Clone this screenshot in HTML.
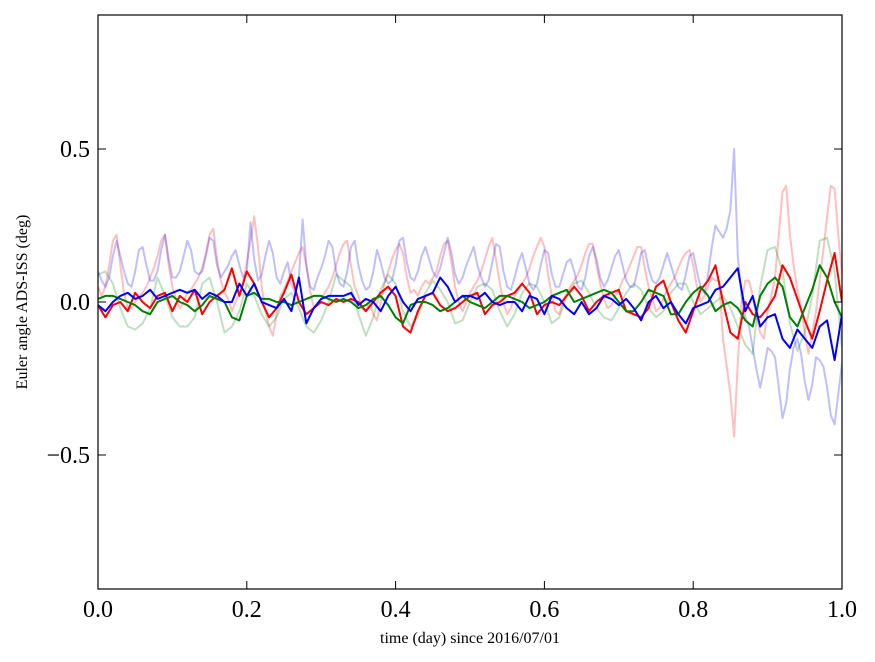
<!DOCTYPE html>
<html><head><meta charset="utf-8"><style>
html,body{margin:0;padding:0;background:#fff;}
svg{display:block;font-family:"Liberation Serif",serif;}
</style></head><body>
<svg id="chart" width="875" height="662"></svg>
<script>
const fineTimes = Array.from({length:201},(_,i)=>i*0.005);
const coarseTimes = Array.from({length:101},(_,i)=>i*0.01);
const xTickLabels = ["0.0","0.2","0.4","0.6","0.8","1.0"];
const xTickValues = [0,0.2,0.4,0.6,0.8,1.0];
const yTickLabels = ["0.5","0.0","\u22120.5"];
const yTickValues = [0.5,0,-0.5];

const faintBlue = [0.10,0.07,0.05,0.08,0.15,0.20,0.15,0.10,0.06,0.05,0.10,0.17,0.18,0.12,0.07,0.07,0.10,0.17,0.22,0.14,0.08,0.08,0.10,0.15,0.20,0.17,0.10,0.09,0.10,0.15,0.21,0.20,0.12,0.08,0.10,0.12,0.15,0.17,0.12,0.08,0.10,0.26,0.14,0.07,0.09,0.15,0.20,0.16,0.08,0.06,0.10,0.13,0.06,0.03,0.08,0.27,0.12,0.05,0.04,0.08,0.11,0.15,0.20,0.18,0.10,0.06,0.05,0.10,0.18,0.20,0.12,0.07,0.04,0.05,0.10,0.17,0.13,0.08,0.06,0.07,0.12,0.20,0.21,0.13,0.08,0.07,0.10,0.15,0.18,0.14,0.10,0.08,0.11,0.16,0.21,0.16,0.09,0.06,0.08,0.12,0.15,0.18,0.12,0.08,0.05,0.07,0.13,0.19,0.18,0.10,0.05,0.04,0.08,0.13,0.16,0.11,0.06,0.04,0.06,0.12,0.17,0.16,0.09,0.05,0.05,0.09,0.13,0.14,0.10,0.05,0.04,0.08,0.15,0.18,0.14,0.08,0.05,0.07,0.11,0.15,0.17,0.12,0.07,0.05,0.05,0.10,0.16,0.17,0.11,0.07,0.06,0.08,0.12,0.16,0.12,0.08,0.05,0.04,0.09,0.15,0.16,0.10,0.05,0.03,0.09,0.18,0.25,0.23,0.21,0.24,0.30,0.50,0.15,0.02,-0.05,-0.08,-0.15,-0.22,-0.28,-0.22,-0.15,-0.16,-0.18,-0.28,-0.38,-0.33,-0.22,-0.15,-0.12,-0.17,-0.26,-0.32,-0.27,-0.18,-0.19,-0.21,-0.28,-0.37,-0.40,-0.30,-0.20];
const faintRed = [0.05,0.02,0.05,0.12,0.20,0.22,0.12,0.03,-0.02,-0.02,0.0,0.02,0.03,0.05,0.08,0.11,0.15,0.20,0.22,0.12,0.05,0.01,-0.02,0.0,0.03,0.04,0.06,0.08,0.11,0.16,0.22,0.24,0.14,0.07,0.03,0.01,-0.03,0.0,0.03,0.06,0.13,0.20,0.28,0.18,0.05,-0.03,-0.08,-0.11,-0.04,0.02,0.04,0.07,0.10,0.13,0.16,0.18,0.12,0.04,-0.02,-0.01,0.01,0.03,0.05,0.08,0.12,0.16,0.19,0.20,0.12,0.05,0.02,-0.02,-0.03,0.0,-0.04,-0.06,0.0,0.06,0.10,0.14,0.17,0.19,0.16,0.08,0.03,0.04,0.02,0.05,0.07,0.06,0.08,0.10,0.15,0.19,0.20,0.13,0.05,0.0,-0.03,0.0,0.03,0.05,0.07,0.10,0.14,0.18,0.21,0.14,0.06,0.0,-0.04,-0.02,0.02,0.04,0.06,0.08,0.11,0.15,0.18,0.21,0.18,0.09,0.02,-0.03,-0.04,0.0,0.03,0.05,0.07,0.09,0.12,0.16,0.19,0.19,0.12,0.06,0.01,-0.02,-0.01,0.02,0.04,0.07,0.09,0.12,0.15,0.18,0.18,0.11,0.05,0.01,-0.03,-0.02,0.01,0.04,0.06,0.08,0.11,0.14,0.16,0.17,0.12,0.05,0.0,0.02,0.05,0.08,0.07,0.07,-0.12,-0.21,-0.30,-0.44,-0.20,0.0,0.07,0.07,0.02,-0.05,-0.10,-0.12,-0.03,0.02,0.08,0.22,0.36,0.38,0.22,0.12,0.04,-0.02,-0.10,-0.17,-0.10,-0.03,0.07,0.17,0.28,0.38,0.37,0.22,0.09];
const faintGreen = [0.09,0.10,0.06,-0.02,-0.08,-0.09,-0.07,-0.02,0.08,0.02,-0.05,-0.08,-0.08,-0.05,0.06,0.08,0.0,-0.10,-0.08,-0.03,0.06,0.02,-0.04,-0.08,-0.05,0.01,0.03,-0.02,-0.08,-0.10,-0.06,0.0,0.09,0.07,0.05,-0.04,-0.11,-0.05,0.04,0.09,0.06,-0.03,-0.08,-0.05,0.03,0.07,0.04,0.0,-0.07,-0.06,0.0,0.05,0.06,0.04,-0.03,-0.08,-0.04,0.03,0.06,0.05,0.0,-0.07,-0.05,0.02,0.06,0.07,0.03,-0.02,-0.05,-0.06,-0.02,0.03,0.06,0.04,-0.02,-0.05,-0.03,0.03,0.06,0.06,0.0,-0.04,-0.02,0.0,0.02,-0.02,-0.08,-0.14,-0.17,0.05,0.17,0.18,0.10,-0.07,-0.16,-0.10,0.02,0.20,0.21,0.10,-0.15];
const solidRed = [-0.01,-0.05,-0.01,0.0,-0.03,0.03,0.0,-0.02,0.02,0.03,-0.03,0.02,0.0,0.04,-0.04,0.0,0.02,0.04,0.11,0.02,0.10,0.06,0.0,-0.05,-0.02,0.03,0.09,0.0,-0.04,-0.02,0.0,-0.01,0.01,0.0,0.01,0.0,-0.03,0.0,0.03,0.05,0.02,-0.08,-0.10,-0.03,0.02,0.03,-0.01,-0.03,-0.02,0.0,0.02,0.03,-0.04,-0.01,0.0,0.02,0.03,0.06,0.03,-0.04,-0.01,0.0,-0.01,0.02,0.05,0.02,-0.03,0.0,0.02,0.03,0.04,-0.03,-0.04,-0.05,-0.02,0.05,0.07,0.0,-0.06,-0.10,-0.03,0.04,0.07,0.12,0.0,-0.10,-0.12,0.0,-0.04,-0.05,-0.02,0.02,0.12,0.08,0.01,-0.06,-0.12,-0.03,0.07,0.16,0.0];
const solidGreen = [0.01,0.02,0.02,0.01,0.0,-0.01,-0.03,-0.04,0.0,0.01,0.02,0.0,-0.01,-0.03,-0.01,0.02,0.01,0.0,-0.05,-0.06,0.02,0.03,0.01,0.01,0.0,0.0,-0.01,0.0,0.01,0.02,0.02,0.01,0.0,0.01,0.0,-0.02,-0.01,0.01,0.02,-0.01,-0.05,-0.07,-0.01,0.0,0.0,-0.01,-0.03,-0.02,0.0,0.02,0.0,-0.01,-0.02,0.0,0.02,0.02,0.01,0.0,-0.02,-0.01,0.0,0.02,0.03,0.04,0.0,0.01,0.02,0.03,0.04,0.03,0.0,-0.03,-0.03,0.0,0.04,0.03,0.02,-0.04,-0.04,0.0,0.03,0.05,0.02,-0.03,-0.01,0.0,-0.02,-0.06,-0.08,0.02,0.06,0.08,0.05,-0.05,-0.08,-0.02,0.04,0.12,0.08,0.0,-0.05];
const solidBlue = [-0.01,-0.03,0.0,0.02,0.03,0.01,0.02,0.04,0.01,0.02,0.03,0.04,0.03,0.04,0.01,0.03,0.02,0.0,0.0,0.06,0.02,0.06,0.0,-0.01,-0.02,0.01,-0.03,0.08,-0.07,-0.02,0.01,0.02,0.02,0.02,0.03,-0.01,0.01,0.0,-0.03,0.02,0.05,0.0,-0.03,0.01,0.02,0.03,0.08,0.05,0.0,0.02,0.02,0.01,0.03,0.0,-0.01,0.0,0.0,-0.03,0.02,0.01,-0.04,0.02,0.01,-0.02,-0.04,0.0,-0.04,-0.02,0.02,0.01,-0.01,0.01,-0.02,-0.06,0.0,0.02,-0.02,0.0,-0.04,-0.07,-0.02,-0.01,0.0,0.04,0.05,0.08,0.11,-0.03,0.02,-0.08,-0.05,-0.04,-0.12,-0.15,-0.09,-0.12,-0.15,-0.08,-0.06,-0.19,-0.04];

const L=98,R=842,T=15,B=589;
const yMin=-0.938,yMax=0.938;
const xs=v=>L+v*(R-L);
const ys=v=>B-(v-yMin)/(yMax-yMin)*(B-T);
const NS="http://www.w3.org/2000/svg";
const svg=document.getElementById('chart');
function mk(tag,attrs){const e=document.createElementNS(NS,tag);for(const k in attrs)e.setAttribute(k,attrs[k]);svg.appendChild(e);return e;}

const defs=mk('clipPath',{id:'clip'});
const cr=document.createElementNS(NS,'rect');cr.setAttribute('x',L);cr.setAttribute('y',T);cr.setAttribute('width',R-L);cr.setAttribute('height',B-T);defs.appendChild(cr);

function line(times,vals,color,op,name){
  const d=vals.map((v,i)=>(i?'L':'M')+xs(times[i]).toFixed(1)+','+ys(v).toFixed(1)).join('');
  const p=mk('path',{d:d,fill:'none',stroke:color,'stroke-width':2,'stroke-opacity':op,'stroke-linejoin':'round','clip-path':'url(#clip)'});
  
  
}
line(fineTimes,faintRed,'#ff0000',0.25,'series-faint-red');
line(coarseTimes,faintGreen,'#008000',0.25,'series-faint-green');
line(fineTimes,faintBlue,'#0000ff',0.25,'series-faint-blue');
line(coarseTimes,solidRed,'#ff0000',1,'series-red');
line(coarseTimes,solidGreen,'#008000',1,'series-green');
line(coarseTimes,solidBlue,'#0000ff',1,'series-blue');

const frame=mk('rect',{x:L,y:T,width:R-L,height:B-T,fill:'none',stroke:'#000','stroke-width':1.2});



xTickValues.forEach((v,i)=>{
  const x=xs(v);
  mk('line',{x1:x,x2:x,y1:B,y2:B-8,stroke:'#000'});
  mk('line',{x1:x,x2:x,y1:T,y2:T+8,stroke:'#000'});
  const t=mk('text',{x:x,y:B+28,'text-anchor':'middle','font-size':24});
  t.textContent=xTickLabels[i];
  
  
});
yTickValues.forEach((v,i)=>{
  const y=ys(v);
  mk('line',{x1:L,x2:L+8,y1:y,y2:y,stroke:'#000'});
  mk('line',{x1:R,x2:R-8,y1:y,y2:y,stroke:'#000'});
  const t=mk('text',{x:L-8,y:y+8,'text-anchor':'end','font-size':24});
  t.textContent=yTickLabels[i];
  
  
});
const xl=mk('text',{x:470,y:643,'text-anchor':'middle','font-size':16});
xl.textContent='time (day) since 2016/07/01';


const yl=mk('text',{x:0,y:0,'text-anchor':'middle','font-size':16,transform:'translate(27,302) rotate(-90)'});
yl.textContent='Euler angle ADS-ISS (deg)';


</script>
</body></html>
